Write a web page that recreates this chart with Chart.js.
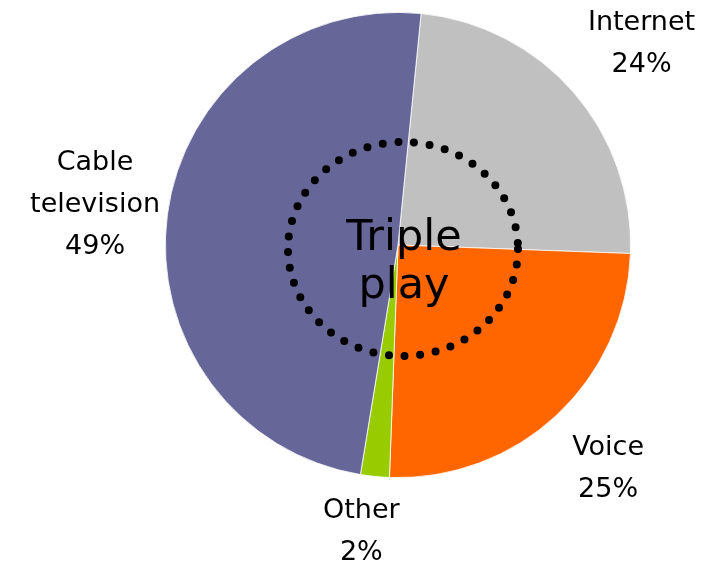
<!DOCTYPE html>
<html>
    <head>
        <meta charset="utf-8">
        <title>Triple play</title>
        <style>
            html, body { margin: 0; padding: 0; background: #fff; }
            .chart { width: 703px; height: 563px; }
        </style>
    </head>
    <body>
        <div class="chart">
            <canvas id="pie" width="703" height="563"></canvas>
        </div>
        <script src="https://cdn.jsdelivr.net/npm/chart.js"></script>
        <script>
            // Данные
            const categories = ['Internet', 'Voice', 'Other', 'Cable television'];
            const labelLines = [['Internet'], ['Voice'], ['Other'], ['Cable', 'television']];
            const shares = [24, 25, 2, 49];
            const colors = ['#c0c0c0', '#ff6600', '#99cc00', '#666699'];
            const centerText = ['Triple', 'play'];

            const font = '"DejaVu Sans", sans-serif';

            // Подписи сегментов снаружи круга
            const nudge = [[11, 2], [0, -2], [-6, -20], [3, 0]];
            const outsideLabels = {
                id: 'outsideLabels',
                afterDatasetsDraw(chart) {
                    const ctx = chart.ctx;
                    const arcs = chart.getDatasetMeta(0).data;
                    ctx.save();
                    ctx.fillStyle = '#000';
                    ctx.font = '27px ' + font;
                    ctx.textAlign = 'center';
                    ctx.textBaseline = 'middle';
                    arcs.forEach((arc, i) => {
                        const mid = (arc.startAngle + arc.endAngle) / 2;
                        const dist = arc.outerRadius + 76;
                        const cx = arc.x + Math.cos(mid) * dist + nudge[i][0];
                        const cy = arc.y + Math.sin(mid) * dist + nudge[i][1];
                        const lines = labelLines[i].concat([shares[i] + '%']);
                        const lh = 42;
                        const top = cy - (lines.length - 1) * lh / 2;
                        lines.forEach((t, k) => ctx.fillText(t, cx, top + k * lh));
                    });
                    ctx.restore();
                }
            };

            // Пунктирный круг и надпись в центре
            const tripleRing = {
                id: 'tripleRing',
                afterDatasetsDraw(chart) {
                    const ctx = chart.ctx;
                    const arc = chart.getDatasetMeta(0).data[0];
                    const cx = arc.x + 5, cy = arc.y + 4;
                    ctx.save();
                    ctx.beginPath();
                    ctx.ellipse(cx, cy, 115, 107, 0, 0, Math.PI * 2);
                    ctx.strokeStyle = '#000';
                    ctx.lineWidth = 8;
                    ctx.lineCap = 'round';
                    ctx.setLineDash([0, 15.7]);
                    ctx.stroke();
                    ctx.setLineDash([]);
                    ctx.fillStyle = '#000';
                    ctx.font = '43px ' + font;
                    ctx.textAlign = 'center';
                    ctx.textBaseline = 'alphabetic';
                    ctx.fillText(centerText[0], cx + 1, cy + 1);
                    ctx.fillText(centerText[1], cx + 1, cy + 49);
                    ctx.restore();
                }
            };

            new Chart(document.getElementById('pie'), {
                type: 'pie',
                data: {
                    labels: categories,
                    datasets: [{
                        data: shares,
                        backgroundColor: colors,
                        borderColor: '#ffffff',
                        borderWidth: 0.8
                    }]
                },
                options: {
                    responsive: false,
                    animation: false,
                    rotation: 5.7,
                    layout: {
                        padding: { left: 165, right: 72, top: 12, bottom: 85 }
                    },
                    plugins: {
                        legend: { display: false },
                        tooltip: { enabled: false }
                    }
                },
                plugins: [tripleRing, outsideLabels]
            });
        </script>
    </body>
</html>
